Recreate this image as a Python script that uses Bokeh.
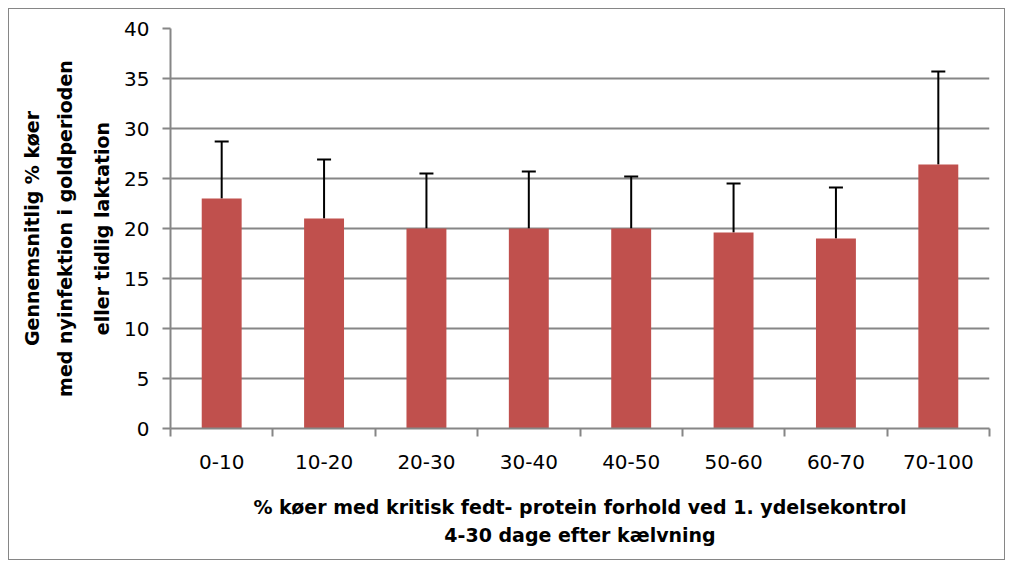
from bokeh.plotting import figure
from bokeh.models import (FixedTicker, Range1d, Title, Whisker, ColumnDataSource,
                          TeeHead, CustomJSTickFormatter)
from bokeh.embed import file_html
from bokeh.resources import INLINE

categories = ["0-10", "10-20", "20-30", "30-40", "40-50", "50-60", "60-70", "70-100"]
values = [23.0, 21.0, 20.0, 20.0, 20.0, 19.6, 19.0, 26.4]
errors = [5.7, 5.9, 5.5, 5.7, 5.2, 4.9, 5.1, 9.3]
y_ticks = [0, 5, 10, 15, 20, 25, 30, 35, 40]

x_title = ["% køer med kritisk fedt- protein forhold ved 1. ydelsekontrol",
           "4-30 dage efter kælvning"]
y_title = ["Gennemsnitlig % køer",
           "med nyinfektion i goldperioden",
           "eller tidlig laktation"]

GRAY = "#868686"
FONT = "DejaVu Sans"

xs = [i + 0.5 for i in range(len(categories))]
upper = [v + e for v, e in zip(values, errors)]
src = ColumnDataSource(dict(x=xs, top=values, upper=upper))

p = figure(width=997, height=552, x_range=Range1d(0, len(categories)),
           y_range=Range1d(0, 40), output_backend="svg", toolbar_location=None,
           min_border_left=161, min_border_right=17, min_border_top=19,
           min_border_bottom=133)
p.styles = {"border": "1px solid " + GRAY, "margin-left": "8px", "margin-top": "8px"}
p.outline_line_color = None
p.background_fill_color = "white"
p.border_fill_color = "white"

p.vbar(x="x", top="top", bottom=0, width=0.39, source=src,
       fill_color="#C0504D", line_color=None)

wh = Whisker(base="x", lower="top", upper="upper", source=src, dimension="height",
             line_color="black", line_width=2,
             upper_head=TeeHead(size=14, line_width=2, line_color="black"),
             lower_head=None)
p.add_layout(wh)

# x axis
xa = p.xaxis[0]
xa.ticker = FixedTicker(ticks=xs, minor_ticks=list(range(len(categories) + 1)))
xa.formatter = CustomJSTickFormatter(args=dict(cats=categories),
                                     code="return cats[Math.floor(tick)] || '';")
xa.major_tick_out = 0
xa.major_tick_in = 0
xa.minor_tick_out = 8
xa.minor_tick_in = 0
xa.minor_tick_line_color = GRAY
xa.minor_tick_line_width = 2
xa.axis_line_color = GRAY
xa.axis_line_width = 2
xa.major_label_standoff = 18
xa.major_label_text_font = FONT
xa.major_label_text_font_size = "20px"
xa.major_label_text_color = "black"
xa.axis_label = x_title[0]
xa.axis_label_standoff = 24
xa.axis_label_text_font = FONT
xa.axis_label_text_font_size = "19px"
xa.axis_label_text_font_style = "bold"
xa.axis_label_text_color = "black"

# y axis
ya = p.yaxis[0]
ya.ticker = FixedTicker(ticks=y_ticks)
ya.major_tick_out = 8
ya.major_tick_in = 0
ya.minor_tick_out = 0
ya.minor_tick_in = 0
ya.major_tick_line_color = GRAY
ya.major_tick_line_width = 2
ya.axis_line_color = GRAY
ya.axis_line_width = 2
ya.major_label_standoff = 13
ya.major_label_text_font = FONT
ya.major_label_text_font_size = "20px"
ya.major_label_text_color = "black"

p.xgrid.visible = False
p.ygrid.ticker = FixedTicker(ticks=y_ticks)
p.ygrid.grid_line_color = GRAY
p.ygrid.grid_line_width = 2

p.add_layout(Title(text=x_title[1], align="center", text_font=FONT,
                   text_font_size="19px", text_font_style="bold",
                   text_color="black", standoff=2), "below")

for line, so in zip(reversed(y_title), [17, 9, 9]):
    p.add_layout(Title(text=line, align="center", text_font=FONT,
                       text_font_size="19px", text_font_style="bold",
                       text_color="black", standoff=so, offset=8), "left")

open("out.html", "w").write(file_html(p, INLINE))
